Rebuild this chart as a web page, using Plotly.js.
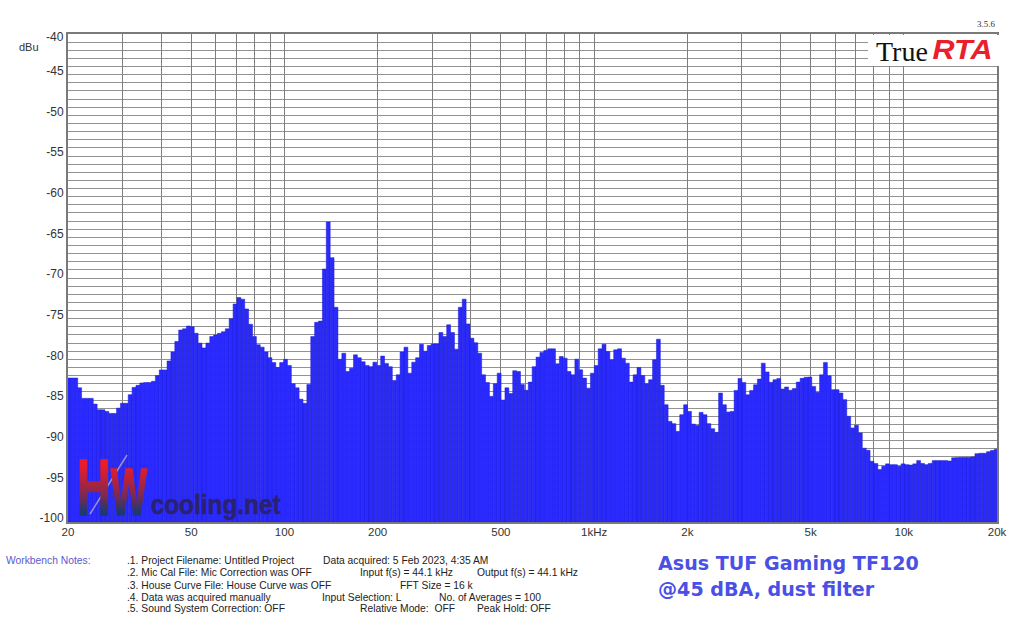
<!DOCTYPE html>
<html>
<head>
<meta charset="utf-8">
<script src="https://cdn.plot.ly/plotly-3.0.1.min.js"></script>
<style>html,body{margin:0;padding:0;background:#fff}#chart{width:1024px;height:624px}</style>
</head>
<body>
<div id="chart"></div>
<script>
// 1/24-octave band levels in dBu
const bandsLow = [-82.3,-82.3,-82.3,-83.5,-84.8,-84.8,-84.8,-85.5,-86.2,-86.2,-86.4,-86.65,-86.65,-86,-85.4,-85.4,-84.35,-83.45,-83.2,-82.9,-82.85,-82.85,-82.7,-82,-81.3,-81.3,-80.2,-79.1,-77.8,-76.4,-76.25,-75.9,-76,-76.8,-78,-78.6,-78,-77.2,-77,-76.8,-76.6,-76.25,-75,-73.2,-72.4,-72.6,-73.8,-75.7,-77.2,-78.2,-78.5,-79.1,-79.8,-80.4,-81,-80.4,-80,-80.75,-83,-83.5];
const bandsMid = [-84.9,-85.4,-83.1,-77.2,-75.45,-75.3,-68.9,-63.1,-67.5,-73.6,-80,-79.25,-81.5,-81.1,-79.45,-79.8,-80.3,-80.75,-80.9,-80.35,-80.75,-79.6,-80.5,-80.9,-82.6,-81.9,-79.1,-78.5,-81.7,-80.35,-79.8,-78.15,-79,-78.3,-78.1,-78.1,-76.7,-77.2,-75.75,-76.7,-78.75,-73.6,-72.6,-75.65,-77.4,-77.95,-79.25,-81.9,-82.85,-84.55,-83,-81.7,-85,-83.5,-84.2,-81.4,-81.5,-83.1,-83.8,-82.8];
const bandsHigh = [-80.9,-79.73,-79.16,-78.92,-78.71,-78.71,-80.55,-79.65,-79.86,-81.49,-81.9,-79.98,-81.29,-82.31,-83.54,-81.7,-80.76,-78.71,-78.14,-79.04,-80.06,-78.83,-78.71,-79.86,-80.47,-82.8,-81.9,-81,-81.98,-83,-82.5,-80.06,-77.53,-83.2,-85.58,-87.63,-87.91,-88.86,-86.81,-85.58,-86.4,-87.96,-88.12,-86.52,-86.81,-87.91,-88.53,-88.98,-84.15,-85.58,-86.48,-86.4,-83.82,-82.35,-82.84,-84.36,-83.82,-83.13,-82.43,-80.47];
const bandsTop = [-81.55,-82.82,-82.5,-82.35,-83.65,-83.4,-83.8,-83.6,-82.8,-82.34,-82.2,-82.18,-83.33,-84.06,-81.9,-80.38,-82.02,-83.73,-83.73,-84.14,-84.96,-87,-88.44,-88.11,-89.05,-90.93,-91.18,-92.53,-92.81,-93.55,-93.14,-92.85,-92.95,-92.95,-93.14,-92.85,-92.95,-93,-92.85,-92.45,-92.8,-92.95,-92.8,-92.45,-92.45,-92.45,-92.45,-92.5,-92.1,-92.08,-92.05,-92.05,-92.05,-92,-91.6,-91.55,-91.55,-91.35,-91.2,-91.05,-91.05];
const levels = bandsLow.concat(bandsMid, bandsHigh, bandsTop);
const startHz = 20, bandsPerOctave = 24, floorDb = -100;

const labelledHz = [20,50,100,200,500,1000,2000,5000,10000,20000];
const labelledText = ['20','50','100','200','500','1kHz','2k','5k','10k','20k'];
const extraGridHz = [30,40,60,70,80,90,300,400,600,700,800,900,3000,4000,6000,7000,8000,9000];
const dbLabels = [-45,-50,-55,-60,-65,-70,-75,-80,-85,-90,-95,-100];

const notes = [
  ['.1. Project Filename: Untitled Project', 127, 560],
  ['Data acquired: 5 Feb 2023, 4:35 AM', 323, 560],
  ['.2. Mic Cal File: Mic Correction was OFF', 127, 572],
  ['Input f(s) = 44.1 kHz', 360, 572],
  ['Output f(s) = 44.1 kHz', 477, 572],
  ['.3. House Curve File: House Curve was OFF', 127, 585],
  ['FFT Size = 16 k', 400, 585],
  ['.4. Data was acquired manually', 127, 597],
  ['Input Selection: L', 322, 597],
  ['No. of Averages = 100', 439, 597],
  ['.5. Sound System Correction: OFF', 127, 608],
  ['Relative Mode:  OFF', 360, 608],
  ['Peak Hold: OFF', 477, 608]
];

const W = 1024, H = 624, L = 68, R = 997, T = 34, B = 522;
const px = x => (x - L) / (R - L);
const py = y => (B - y) / (B - T);
const SANS = '"Liberation Sans", Arial, sans-serif';
const SERIF = '"Liberation Serif", serif';

const hz = levels.map((_, i) => startHz * Math.pow(2, i / bandsPerOctave));
const halfUp = Math.pow(2, 1 / (2 * bandsPerOctave));

function note(text, x, y, font, anchor) {
  return {text: text, xref: 'paper', yref: 'paper', x: px(x), y: py(y), xanchor: anchor || 'left',
          yanchor: 'middle', showarrow: false, font: font, align: anchor === 'center' ? 'center' : 'left',
          borderpad: 0, borderwidth: 0};
}
const noteFont = {family: SANS, size: 10.3, color: '#222'};

const annotations = notes.map(n => note(n[0], n[1], n[2], noteFont));
annotations.push(
  note('Workbench Notes:', 6, 560, {family: SANS, size: 10.3, color: '#5a5acb'}),
  note('Asus TUF Gaming TF120', 658, 563, {family: 'DejaVu Sans', size: 19.1, color: '#4a50e6', weight: 700}),
  note('@45 dBA, dust filter', 658, 589, {family: 'DejaVu Sans', size: 19.1, color: '#4a50e6', weight: 700}),
  note('dBu', 29, 47, {family: SANS, size: 11, color: '#333'}, 'center'),
  note('-40', 64, 36.5, {family: SANS, size: 12, color: '#333'}, 'right'),
  note('3.5.6', 996, 24, {family: SERIF, size: 9, color: '#333'}, 'right'),
  note('True', 876, 51, {family: SERIF, size: 28, color: '#111'}),
  note('RTA', 962, 50, {family: SANS, size: 27, color: '#e8202c', weight: 700, style: 'italic'}, 'center'),
  note('H<span style="font-size:66px">W</span>', 112, 487, {family: SANS, size: 80, color: '#b02030', weight: 700}, 'center'),
  note('cooling.net', 215, 504, {family: SANS, size: 28, color: '#2a2270', weight: 700}, 'center')
);

const shapes = [
  {type: 'rect', xref: 'paper', yref: 'paper', x0: px(868), x1: px(1000), y0: py(66), y1: py(35),
   fillcolor: '#fff', line: {width: 0}, layer: 'above'},
  {type: 'line', xref: 'paper', yref: 'paper', x0: px(90), y0: py(514), x1: px(127), y1: py(455),
   line: {color: '#9a90d0', width: 1.5}, layer: 'above'}
];

const data = [{
  type: 'bar', x: hz, y: levels.map(v => v - floorDb), base: floorDb,
  width: hz.map(f => f * (halfUp - 1 / halfUp)),
  offset: hz.map(f => -f * (1 - 1 / halfUp)),
  marker: {color: '#2a2aff', line: {color: '#1c1cc8', width: 0.5}},
  hoverinfo: 'skip'
}];

const layout = {
  width: W, height: H, showlegend: false, paper_bgcolor: '#fff', plot_bgcolor: '#fff',
  margin: {l: L, r: W - R, t: T, b: H - B, pad: 0},
  font: {family: SANS, color: '#333', size: 12},
  bargap: 0,
  xaxis: {
    type: 'log', range: [Math.log10(20), Math.log10(20000)],
    tickmode: 'array', tickvals: labelledHz.concat(extraGridHz),
    ticktext: labelledText.concat(extraGridHz.map(() => '')),
    ticks: '', showgrid: true, gridcolor: '#7d7d7d', gridwidth: 1,
    showline: true, linecolor: '#7a7a7a', linewidth: 2, mirror: true, zeroline: false,
    tickfont: {family: SANS, size: 11.5, color: '#333'}, ticklabelstandoff: -2, automargin: false
  },
  yaxis: {
    range: [-100, -40], tickmode: 'array', tickvals: dbLabels, ticktext: dbLabels.map(String),
    ticks: '', showgrid: true, gridcolor: '#929292', gridwidth: 1,
    minor: {dtick: 1, showgrid: true, gridcolor: '#929292', gridwidth: 1, ticks: ''},
    showline: true, linecolor: '#7a7a7a', linewidth: 2, mirror: true, zeroline: false,
    tickfont: {family: SANS, size: 12, color: '#333'}, ticklabelshift: -4, automargin: false
  },
  annotations: annotations, shapes: shapes
};

// horizontal extents of the logo lettering, in pixels
const stretched = {'HW': 70, 'cooling.net': 130, 'RTA': 60};

Plotly.newPlot('chart', data, layout, {displayModeBar: false, staticPlot: true}).then(gd => {
  const svg = gd.querySelector('svg.main-svg');
  const ns = 'http://www.w3.org/2000/svg';
  const defs = svg.querySelector('defs') || svg.insertBefore(document.createElementNS(ns, 'defs'), svg.firstChild);
  const g = document.createElementNS(ns, 'linearGradient');
  g.setAttribute('id', 'hwFill'); g.setAttribute('x1', '0'); g.setAttribute('y1', '0');
  g.setAttribute('x2', '0'); g.setAttribute('y2', '1');
  [['25%', '#ee1c25'], ['60%', '#7a2a50'], ['78%', '#1a3a70']].forEach(s => {
    const st = document.createElementNS(ns, 'stop');
    st.setAttribute('offset', s[0]); st.setAttribute('stop-color', s[1]); g.appendChild(st);
  });
  defs.appendChild(g);
  gd.querySelectorAll('.annotation-text').forEach(t => {
    const s = t.textContent;
    if (s === 'HW') {
      t.style.fill = 'url(#hwFill)';
      t.style.stroke = 'url(#hwFill)';
      t.style.strokeWidth = '1.5px';
    }
    if (s === 'cooling.net') {
      t.style.stroke = '#2a2270';
      t.style.strokeWidth = '0.6px';
    }
    if (stretched[s]) {
      const cx = parseFloat(t.getAttribute('x')) || 0;
      const sx = stretched[s] / t.getComputedTextLength();
      t.setAttribute('transform', 'translate(' + cx + ' 0) scale(' + sx + ' 1) translate(' + (-cx) + ' 0)');
    }
  });
});
</script>
</body>
</html>
